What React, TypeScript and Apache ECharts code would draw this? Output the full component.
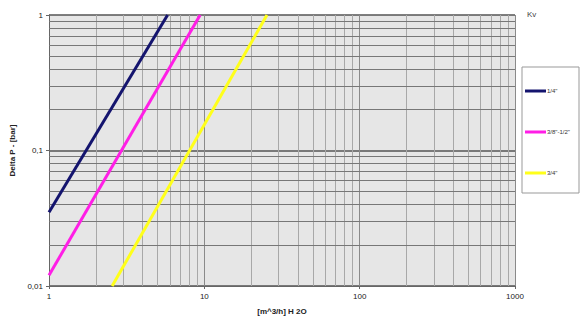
import React, { useEffect, useRef } from "react";
import * as echarts from "echarts";

const seriesNames = ['1/4"', '3/8"-1/2"', '3/4"'];
const seriesColors = ["#14146e", "#ff1ee6", "#ffff1a"];
const flowQuarter = [1, 5.8];
const dpQuarter = [0.035, 1];
const flowThreeEighths = [1, 9.4];
const dpThreeEighths = [0.012, 1];
const flowThreeQuarter = [2.55, 25.3];
const dpThreeQuarter = [0.01, 1];

const xTicks = [1, 10, 100, 1000];
const yTicks = [0.01, 0.1, 1];
const yTickLabels = ["0,01", "0,1", "1"];
const xMinor = [2, 3, 4, 5, 6, 7, 8, 9, 20, 30, 40, 50, 60, 70, 80, 90, 200, 300, 400, 500, 600, 700, 800, 900];
const yMinor = [0.02, 0.03, 0.04, 0.05, 0.06, 0.07, 0.08, 0.09, 0.2, 0.3, 0.4, 0.5, 0.6, 0.7, 0.8, 0.9];

const FONT = "Liberation Sans";

export default function App() {
  const ref = useRef<HTMLDivElement>(null);
  useEffect(() => {
    const chart = echarts.init(ref.current!, null, { renderer: "svg" });
    const pairs = (xs: number[], ys: number[]) => xs.map((x, i) => [x, ys[i]]);
    const data = [
      pairs(flowQuarter, dpQuarter),
      pairs(flowThreeEighths, dpThreeEighths),
      pairs(flowThreeQuarter, dpThreeQuarter),
    ];
    const lineSeries = seriesNames.map((name, i) => ({
      name,
      type: "line",
      data: data[i],
      showSymbol: false,
      symbol: "none",
      lineStyle: { color: seriesColors[i], width: 3 },
      itemStyle: { color: seriesColors[i] },
      z: 5,
    }));
    chart.setOption({
      animation: false,
      backgroundColor: "#ffffff",
      grid: {
        left: 49,
        top: 15,
        width: 466,
        height: 273,
        show: true,
        backgroundColor: "#e6e6e6",
        borderWidth: 0,
      },
      xAxis: {
        type: "log",
        logBase: 10,
        min: 1,
        max: 1000,
        name: "[m^3/h] H 2O",
        nameLocation: "middle",
        nameGap: 21,
        nameTextStyle: { fontFamily: FONT, fontSize: 8, fontWeight: "bold", color: "#222" },
        axisLine: { show: true, lineStyle: { color: "#666", width: 1 } },
        axisTick: { show: true, length: 3, lineStyle: { color: "#666" } },
        axisLabel: {
          fontFamily: FONT,
          fontSize: 8,
          color: "#222",
          margin: 6,
          formatter: (v: number) => (xTicks.includes(v) ? String(v) : ""),
        },
        splitLine: { show: true, lineStyle: { color: "#8a8a8a", width: 1 } },
      },
      yAxis: {
        type: "log",
        logBase: 10,
        min: 0.01,
        max: 1,
        name: "Delta P - [bar]",
        nameLocation: "middle",
        nameGap: 30,
        nameRotate: 90,
        nameTextStyle: { fontFamily: FONT, fontSize: 8, fontWeight: "bold", color: "#222" },
        axisLine: { show: true, lineStyle: { color: "#666", width: 1 } },
        axisTick: { show: true, length: 3, lineStyle: { color: "#666" } },
        axisLabel: {
          fontFamily: FONT,
          fontSize: 8,
          color: "#222",
          margin: 6,
          formatter: (v: number) => {
            const idx = yTicks.findIndex((t) => Math.abs(t - v) / t < 1e-6);
            return idx >= 0 ? yTickLabels[idx] : "";
          },
        },
        splitLine: { show: true, lineStyle: { color: "#555", width: 1.5 } },
      },
      legend: {
        orient: "vertical",
        left: 525,
        top: 87,
        padding: 0,
        itemWidth: 21,
        itemHeight: 3,
        itemGap: 33,
        icon: "rect",
        data: seriesNames,
        textStyle: { fontFamily: FONT, fontSize: 6, lineHeight: 8, color: "#333", padding: [0, 0, 0, -4] },
      },
      graphic: [
        {
          type: "rect",
          shape: { x: 522, y: 67, width: 57, height: 126 },
          style: { fill: "#ffffff", stroke: "#999", lineWidth: 1 },
          z: -1,
        },
        {
          type: "text",
          x: 527,
          y: 10,
          style: { text: "Kv", fontFamily: FONT, fontSize: 8, fill: "#444" },
        },
      ],
      series: [
        ...lineSeries,
        {
          type: "line",
          data: [],
          silent: true,
          markLine: {
            silent: true,
            symbol: "none",
            label: { show: false },
            animation: false,
            lineStyle: { color: "#a8a8a8", width: 1, type: "solid" },
            data: xMinor.map((v) => ({ xAxis: v })),
          },
          z: 1,
        },
        {
          type: "line",
          data: [],
          silent: true,
          markLine: {
            silent: true,
            symbol: "none",
            label: { show: false },
            animation: false,
            lineStyle: { color: "#777", width: 1, type: "solid" },
            data: yMinor.map((v) => ({ yAxis: v })),
          },
          z: 1,
        },
      ],
    });
    return () => chart.dispose();
  }, []);
  return (
    <div
      ref={ref}
      style={{ position: "fixed", left: 0, top: 0, width: 581, height: 320 }}
    />
  );
}
